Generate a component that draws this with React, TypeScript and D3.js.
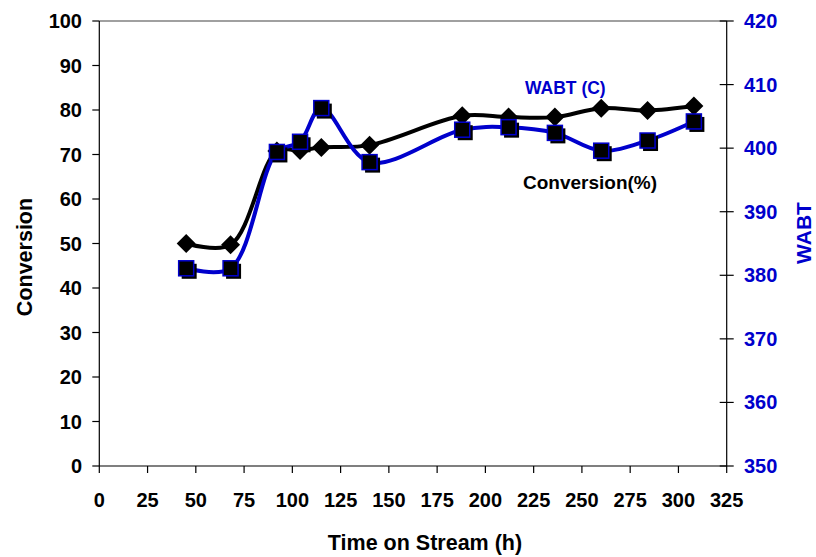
/**
 * Conversion and WABT vs time on stream — two-axis D3 line chart.
 * Left axis: conversion (%), right axis: WABT (C).
 */
import { useEffect, useRef } from 'react';
import * as d3 from 'd3';

const hours = [45, 68, 92, 104, 115, 140, 188, 212, 236, 260, 284, 308];
const conversion = [50, 49.7, 70.8, 70.9, 71.6, 72.1, 78.7, 78.4, 78.4, 80.4, 79.9, 80.9];
const wabt = [381.1, 381.1, 399.4, 401.0, 406.3, 397.8, 402.9, 403.3, 402.4, 399.6, 401.2, 404.2];

const xTicks = d3.range(0, 326, 25);
const leftTicks = d3.range(0, 101, 10);
const rightTicks = d3.range(350, 421, 10);

const WIDTH = 816;
const HEIGHT = 557;
const FONT = '"Liberation Sans", Arial, sans-serif';
const BLUE = '#0000cc';

export default function App() {
  const svgRef = useRef<SVGSVGElement>(null);

  useEffect(() => {
    if (!svgRef.current) return;
    const svg = d3.select(svgRef.current);
    svg.selectAll('*').remove();

    const left = 99.3;
    const right = 726.7;
    const top = 21;
    const bottom = 466;

    const x = d3.scaleLinear().domain([0, 325]).range([left, right]);
    const yL = d3.scaleLinear().domain([0, 100]).range([bottom, top]);
    const yR = d3.scaleLinear().domain([350, 420]).range([bottom, top]);

    const g = svg.append('g').attr('font-family', FONT).attr('font-weight', 'bold');

    // plot frame top (grey)
    g.append('line')
      .attr('x1', left).attr('x2', right)
      .attr('y1', top).attr('y2', top)
      .attr('stroke', '#808080').attr('stroke-width', 1.5);

    // left axis
    g.append('line')
      .attr('x1', left).attr('x2', left).attr('y1', top).attr('y2', bottom)
      .attr('stroke', '#000').attr('stroke-width', 1.2);
    leftTicks.forEach((t) => {
      g.append('line')
        .attr('x1', left - 7).attr('x2', left)
        .attr('y1', yL(t)).attr('y2', yL(t))
        .attr('stroke', '#000').attr('stroke-width', 1.2);
      g.append('text')
        .attr('x', 82).attr('y', yL(t) + 7)
        .attr('text-anchor', 'end').attr('font-size', 20)
        .attr('fill', '#000').text(t);
    });

    // right axis
    g.append('line')
      .attr('x1', right).attr('x2', right).attr('y1', top).attr('y2', bottom)
      .attr('stroke', '#000').attr('stroke-width', 1.2);
    rightTicks.forEach((t) => {
      g.append('line')
        .attr('x1', right - 7).attr('x2', right + 7)
        .attr('y1', yR(t)).attr('y2', yR(t))
        .attr('stroke', '#000').attr('stroke-width', 1.2);
      g.append('text')
        .attr('x', 744).attr('y', yR(t) + 7)
        .attr('text-anchor', 'start').attr('font-size', 20)
        .attr('fill', BLUE).text(t);
    });

    // bottom axis
    g.append('line')
      .attr('x1', left).attr('x2', right).attr('y1', bottom).attr('y2', bottom)
      .attr('stroke', '#000').attr('stroke-width', 1.2);
    xTicks.forEach((t) => {
      g.append('line')
        .attr('x1', x(t)).attr('x2', x(t))
        .attr('y1', bottom).attr('y2', bottom + 7)
        .attr('stroke', '#000').attr('stroke-width', 1.2);
      g.append('text')
        .attr('x', x(t)).attr('y', 507)
        .attr('text-anchor', 'middle').attr('font-size', 20)
        .attr('fill', '#000').text(t);
    });

    // axis titles
    g.append('text')
      .attr('x', 425).attr('y', 550)
      .attr('text-anchor', 'middle').attr('font-size', 21.5)
      .attr('fill', '#000').text('Time on Stream (h)');
    g.append('text')
      .attr('transform', 'translate(32,257) rotate(-90)')
      .attr('text-anchor', 'middle').attr('font-size', 21.5)
      .attr('fill', '#000').text('Conversion');
    g.append('text')
      .attr('transform', 'translate(811,233) rotate(-90)')
      .attr('text-anchor', 'middle').attr('font-size', 21)
      .attr('fill', BLUE).text('WABT');

    // conversion series
    const convData = hours.map((h, i) => ({ h, v: conversion[i] }));
    const convLine = d3.line<typeof convData[0]>()
      .x((d) => x(d.h))
      .y((d) => yL(d.v))
      .curve(d3.curveCatmullRom.alpha(0.5));
    g.append('path')
      .datum(convData)
      .attr('d', convLine)
      .attr('fill', 'none')
      .attr('stroke', '#000')
      .attr('stroke-width', 4);
    const diamond = 'M0,-9.5L9.5,0L0,9.5L-9.5,0Z';
    g.selectAll('.dia')
      .data(convData)
      .enter().append('path')
      .attr('class', 'dia')
      .attr('d', diamond)
      .attr('transform', (d) => `translate(${x(d.h)},${yL(d.v)})`)
      .attr('fill', '#000');

    // WABT series
    const wData = hours.map((h, i) => ({ h, v: wabt[i] }));
    const wLine = d3.line<typeof wData[0]>()
      .x((d) => x(d.h))
      .y((d) => yR(d.v))
      .curve(d3.curveCatmullRom.alpha(0.5));
    g.append('path')
      .datum(wData)
      .attr('d', wLine)
      .attr('fill', 'none')
      .attr('stroke', BLUE)
      .attr('stroke-width', 4);
    const s = 15;
    g.selectAll('.sq-shadow')
      .data(wData)
      .enter().append('rect')
      .attr('class', 'sq-shadow')
      .attr('x', (d) => x(d.h) - s / 2 + 3)
      .attr('y', (d) => yR(d.v) - s / 2 + 3)
      .attr('width', s).attr('height', s)
      .attr('fill', '#000');
    g.selectAll('.sq')
      .data(wData)
      .enter().append('rect')
      .attr('class', 'sq')
      .attr('x', (d) => x(d.h) - s / 2)
      .attr('y', (d) => yR(d.v) - s / 2)
      .attr('width', s).attr('height', s)
      .attr('fill', '#000')
      .attr('stroke', BLUE)
      .attr('stroke-width', 1.5);

    // series labels
    g.append('text')
      .attr('x', 525).attr('y', 94)
      .attr('font-size', 17.5).attr('fill', BLUE)
      .text('WABT (C)');
    g.append('text')
      .attr('x', 523).attr('y', 189)
      .attr('font-size', 19).attr('fill', '#000')
      .text('Conversion(%)');
  }, []);

  return (
    <svg
      ref={svgRef}
      width={WIDTH}
      height={HEIGHT}
      style={{ position: 'absolute', left: 0, top: 0, background: '#fff' }}
    />
  );
}
